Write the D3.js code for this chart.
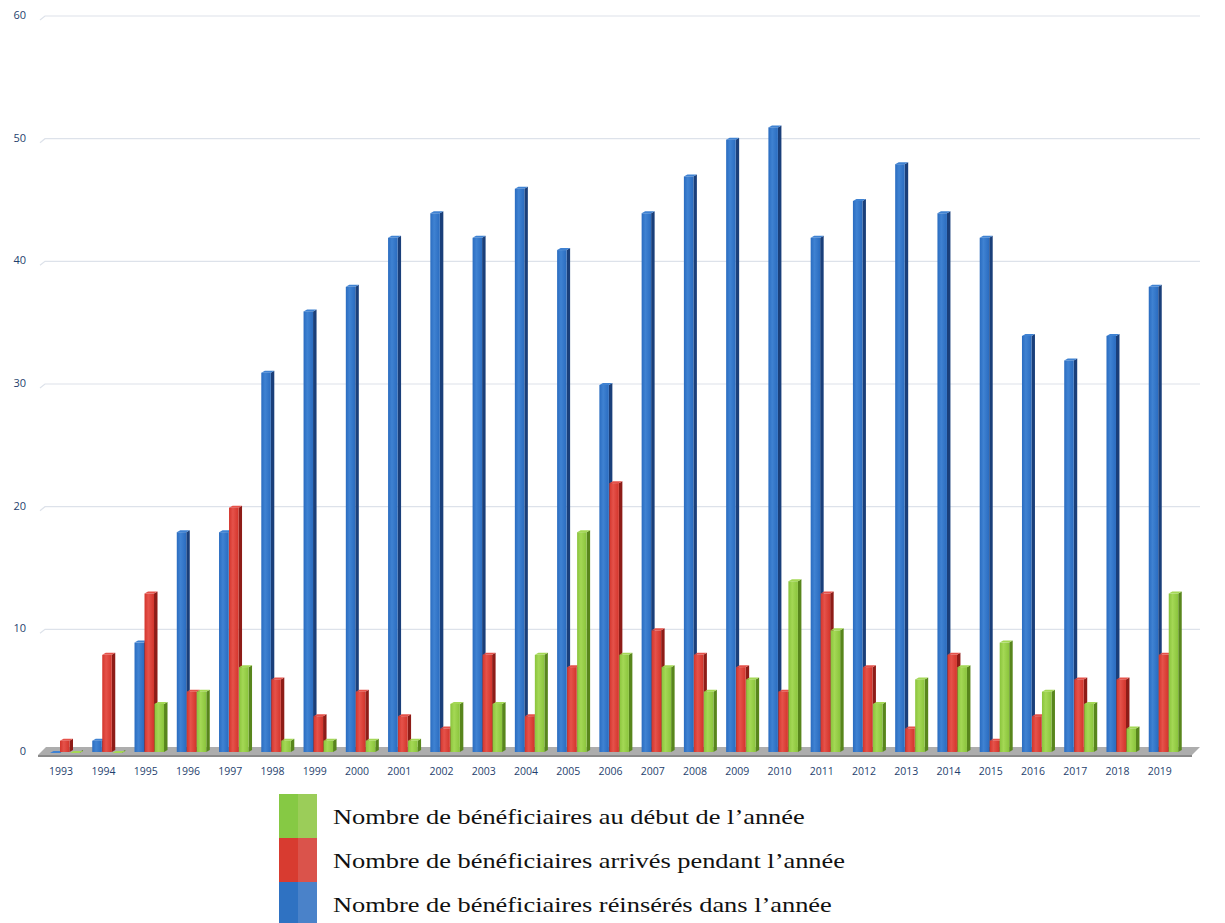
<!DOCTYPE html>
<html>
<head>
<meta charset="utf-8">
<script src="https://cdn.jsdelivr.net/npm/d3@7"></script>
<style>
  body { margin: 0; background: #fff; }
</style>
</head>
<body>
<div id="chart"></div>
<script>
// data
var years = ["1993","1994","1995","1996","1997","1998","1999","2000","2001","2002","2003","2004","2005","2006",
             "2007","2008","2009","2010","2011","2012","2013","2014","2015","2016","2017","2018","2019"];
var reinseres = [0,1,9,18,18,31,36,38,42,44,42,46,41,30,44,47,50,51,42,45,48,44,42,34,32,34,38];
var arrives   = [1,8,13,5,20,6,3,5,3,2,8,3,7,22,10,8,7,5,13,7,2,8,1,3,6,6,8];
var debut     = [0,0,4,5,7,1,1,1,1,4,4,8,18,8,7,5,6,14,10,4,6,7,9,5,4,2,13];
var yTicks = [0,10,20,30,40,50,60];

var series = [
  {key: "reinseres", values: reinseres, front: "#2a6cc0", light: "#3f82d2", side: "#1a3f7a", sw: "#2f72c2",
   label: "Nombre de bénéficiaires réinsérés dans l’année"},
  {key: "arrives",   values: arrives,   front: "#d3352c", light: "#e5524a", side: "#8e1c17", sw: "#d83b30",
   label: "Nombre de bénéficiaires arrivés pendant l’année"},
  {key: "debut",     values: debut,     front: "#8ac43c", light: "#a4d855", side: "#58861c", sw: "#86c944",
   label: "Nombre de bénéficiaires au début de l’année"}
];

var W = 1225, H = 923;
var svg = d3.select("#chart").append("svg")
    .attr("width", W)
    .attr("height", H);

var x = d3.scaleBand().domain(years).range([40, 1181]);
var xs = d3.scaleBand().domain(series.map(function(s) { return s.key; })).range([10, 40]);
var y = d3.scaleLinear().domain([0, 60]).range([752, 16]);
var depth = 3.5;

// gradients for the bar fronts
var defs = svg.append("defs");
series.forEach(function(s) {
  var g = defs.append("linearGradient").attr("id", "g-" + s.key)
      .attr("x1", "0%").attr("x2", "100%").attr("y1", "0%").attr("y2", "0%");
  g.append("stop").attr("offset", "0%").attr("stop-color", s.front);
  g.append("stop").attr("offset", "40%").attr("stop-color", s.light);
  g.append("stop").attr("offset", "100%").attr("stop-color", s.front);
});

// gridlines
svg.append("g").selectAll("path")
  .data(yTicks.filter(function(d) { return d > 0; }))
  .enter().append("path")
    .attr("d", function(d) { return "M40," + (y(d) + 4) + "L45," + y(d) + "H1200"; })
    .attr("fill", "none")
    .attr("stroke", "#dde2ea")
    .attr("stroke-width", 1.2);

// y labels
svg.append("g").selectAll("text")
  .data(yTicks)
  .enter().append("text")
    .attr("x", 26)
    .attr("y", function(d) { return y(d); })
    .attr("text-anchor", "end")
    .attr("dominant-baseline", "middle")
    .attr("font-family", "Open Sans, sans-serif")
    .attr("font-size", "11px")
    .attr("fill", "#1f3f6e")
    .text(function(d) { return d; });

// floor
svg.append("path")
    .attr("d", "M38," + (y(0) + 3) + "L1192," + (y(0) + 3) + "L1200," + (y(0) - 5) + "L46," + (y(0) - 5) + "Z")
    .attr("fill", "#adadad");
svg.append("path")
    .attr("d", "M38," + (y(0) + 3) + "L1192," + (y(0) + 3) + "L1192," + (y(0) + 5) + "L38," + (y(0) + 5) + "Z")
    .attr("fill", "#8a8a8a");

// bars
var groups = svg.append("g").selectAll("g")
  .data(years)
  .enter().append("g")
    .attr("transform", function(d) { return "translate(" + x(d) + ",0)"; });

series.forEach(function(s) {
  var bw = xs.bandwidth() - 0.5;
  var bars = groups.append("g")
      .datum(function(d, i) { return {year: d, v: s.values[i]}; })
      .attr("transform", "translate(" + xs(s.key) + ",0)");
  // side
  bars.append("path")
      .attr("d", function(d) {
        var top = y(d.v);
        return "M" + bw + "," + y(0) + "L" + bw + "," + (top + 1) +
               "L" + (bw + depth) + "," + (top - 1) + "L" + (bw + depth) + "," + (y(0) - 2) + "Z";
      })
      .attr("fill", s.side);
  // top cap
  bars.append("path")
      .attr("d", function(d) {
        var top = y(d.v);
        return "M0," + (top + 1) + "L" + depth + "," + (top - 1) + "L" + (bw + depth) + "," + (top - 1) + "L" + bw + "," + (top + 1) + "Z";
      })
      .attr("fill", s.light);
  // front
  bars.append("rect")
      .attr("x", 0)
      .attr("y", function(d) { return y(d.v) + 1; })
      .attr("width", bw)
      .attr("height", function(d) { return Math.max(0, y(0) - y(d.v) - 1); })
      .attr("fill", "url(#g-" + s.key + ")");
});

// x labels
svg.append("g").selectAll("text")
  .data(years)
  .enter().append("text")
    .attr("x", function(d) { return x(d) + x.bandwidth() / 2; })
    .attr("y", 772)
    .attr("text-anchor", "middle")
    .attr("dominant-baseline", "middle")
    .attr("font-family", "Open Sans, sans-serif")
    .attr("font-size", "10.5px")
    .attr("fill", "#1f3f6e")
    .text(function(d) { return d; });

// legend (green on top, blue at bottom)
var legendItems = series.slice().reverse();
var leg = svg.append("g").selectAll("g")
  .data(legendItems)
  .enter().append("g")
    .attr("transform", function(d, i) { return "translate(279," + (794 + i * 44) + ")"; });

leg.append("rect")
    .attr("width", 19).attr("height", 44)
    .attr("fill", function(d) { return d.sw; });
leg.append("rect")
    .attr("x", 19).attr("width", 19).attr("height", 44)
    .attr("fill", function(d) { return d.front; })
    .attr("opacity", 0.85);
// text is drawn a bit stretched sideways, like in the source
leg.append("text")
    .attr("transform", "translate(54,30) scale(1.2,1)")
    .attr("font-family", "Liberation Serif, Times New Roman, serif")
    .attr("font-size", "22px")
    .attr("fill", "#111")
    .text(function(d) { return d.label; });
</script>
</body>
</html>
